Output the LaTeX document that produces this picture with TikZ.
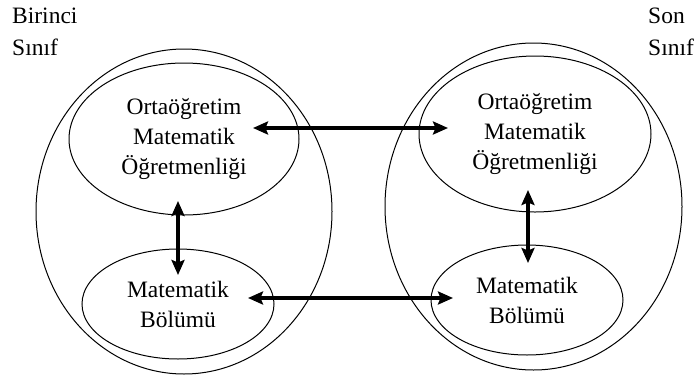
\documentclass[tikz,border=0pt]{standalone}
\usepackage{fontspec}
\setmainfont{Liberation Serif}
\usetikzlibrary{shapes.geometric,arrows.meta}
\begin{document}
\begin{tikzpicture}[x=1pt,y=-1pt,
  lbl/.style={font=\fontsize{23.5}{30}\selectfont, inner sep=0},
  box/.style={draw, ellipse, line width=1pt, inner sep=0, align=center, font=\fontsize{23.5}{30}\selectfont},
  outer/.style={draw, ellipse, line width=1pt, inner sep=0},
  link/.style={line width=3.4pt, {Stealth[length=15pt,width=13pt,inset=2.5pt]}-{Stealth[length=15pt,width=13pt,inset=2.5pt]}}]
\useasboundingbox (0,0) rectangle (696,378);
% outer ellipses
\node[outer, minimum width=296pt, minimum height=325pt] (L) at (184,211.5) {};
\node[outer, minimum width=297pt, minimum height=327pt] (R) at (533.5,206.5) {};
% inner ellipses
\node[box, minimum width=230pt, minimum height=152pt] (tl) at (184,139) {Ortaöğretim\\Matematik\\Öğretmenliği};
\node[box, minimum width=192pt, minimum height=110pt] (bl) at (178,304) {Matematik\\Bölümü};
\node[box, minimum width=232pt, minimum height=156pt] (tr) at (535,134) {Ortaöğretim\\Matematik\\Öğretmenliği};
\node[box, minimum width=192pt, minimum height=110pt] (br) at (527,300) {Matematik\\Bölümü};
% labels
\node[lbl, anchor=base west] (lab1) at (12,23) {Birinci};
\node[lbl, anchor=base west] (lab2) at (12,55) {Sınıf};
\node[lbl, anchor=base west] (lab3) at (648,23) {Son};
\node[lbl, anchor=base west] (lab4) at (648,55) {Sınıf};
% arrow end points
\coordinate (a1) at (253,128);
\coordinate (a2) at (448,128);
\coordinate (b1) at (248,298);
\coordinate (b2) at (453,298);
\coordinate (c1) at (178,201);
\coordinate (c2) at (178,275);
\coordinate (d1) at (528,190);
\coordinate (d2) at (528,263);
\draw[link] (a1) -- (a2);
\draw[link] (b1) -- (b2);
\draw[link] (c1) -- (c2);
\draw[link] (d1) -- (d2);
\end{tikzpicture}
\end{document}
